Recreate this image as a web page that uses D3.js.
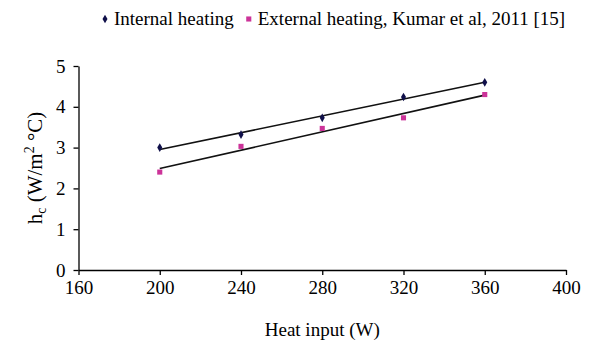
<!DOCTYPE html>
<html>
<head>
<meta charset="utf-8">
<script src="https://cdn.jsdelivr.net/npm/d3@7"></script>
<style>
  body { margin: 0; background: #fff; }
  svg text { font-family: "Liberation Serif", "Times New Roman", serif; fill: #000; }
</style>
</head>
<body>
<div id="chart"></div>
<script>
// data
const heatInput = [200, 240, 280, 320, 360];
const internalHeating = [3.0, 3.32, 3.73, 4.24, 4.6];
const externalHeating = [2.4, 3.03, 3.47, 3.73, 4.3];
const xTicks = [160, 200, 240, 280, 320, 360, 400];
const yTicks = [0, 1, 2, 3, 4, 5];

const W = 614, H = 354;
const margin = { top: 66, right: 48, bottom: 84, left: 78.5 };
const width = W - margin.left - margin.right;
const height = H - margin.top - margin.bottom;
const fontSize = "19px";

const svg = d3.select("#chart").append("svg")
    .attr("width", W)
    .attr("height", H);

const g = svg.append("g").attr("transform", `translate(${margin.left},${margin.top})`);

const x = d3.scaleLinear().domain([160, 400]).range([0, width]);
const y = d3.scaleLinear().domain([0, 5]).range([height, 0]);

// least-squares trend line, like the spreadsheet one
function trend(xs, ys) {
    const mx = d3.mean(xs), my = d3.mean(ys);
    const slope = d3.sum(xs, (v, i) => (v - mx) * (ys[i] - my)) / d3.sum(xs, (v) => (v - mx) ** 2);
    const x0 = d3.min(xs), x1 = d3.max(xs);
    return [[x0, my + slope * (x0 - mx)], [x1, my + slope * (x1 - mx)]];
}

// axes
const xAxis = g.append("g")
    .attr("transform", `translate(0,${height})`)
    .call(d3.axisBottom(x).tickValues(xTicks).tickFormat(d3.format("d"))
        .tickSize(5).tickPadding(6).tickSizeOuter(0));
const yAxis = g.append("g")
    .call(d3.axisLeft(y).tickValues(yTicks).tickFormat(d3.format("d"))
        .tickSize(5).tickPadding(8).tickSizeOuter(0));

[xAxis, yAxis].forEach((a) => {
    a.attr("font-family", '"Liberation Serif", serif').attr("font-size", 19);
    a.select(".domain").attr("stroke", "#000").attr("stroke-width", 1.3);
    a.selectAll(".tick line").attr("stroke", "#000").attr("stroke-width", 1.3);
    a.selectAll(".tick text").attr("fill", "#000");
});

const line = d3.line().x((d) => x(d[0])).y((d) => y(d[1]));

const series = [
    { name: "Internal heating", values: internalHeating, color: "#10104a", symbol: d3.symbolDiamond, size: 22 },
    { name: "External heating, Kumar et al, 2011 [15]", values: externalHeating, color: "#cc3399", symbol: d3.symbolSquare, size: 26 }
];

series.forEach((s) => {
    g.append("path")
        .datum(trend(heatInput, s.values))
        .attr("fill", "none")
        .attr("stroke", "#111")
        .attr("stroke-width", 1.6)
        .attr("d", line);

    g.selectAll(null)
        .data(heatInput)
        .enter()
        .append("path")
        .attr("transform", (d, i) => `translate(${x(d)},${y(s.values[i])})`)
        .attr("d", d3.symbol().type(s.symbol).size(s.size))
        .attr("fill", s.color);
});

// axis titles
svg.append("text")
    .attr("x", margin.left + width / 2)
    .attr("y", 336)
    .attr("text-anchor", "middle")
    .style("font-size", fontSize)
    .text("Heat input (W)");

const yTitle = svg.append("text")
    .attr("transform", `translate(42,${margin.top + height / 2}) rotate(-90)`)
    .attr("text-anchor", "middle")
    .style("font-size", "21px");
yTitle.append("tspan").text("h");
yTitle.append("tspan").attr("dy", 4).style("font-size", "14px").text("c");
yTitle.append("tspan").attr("dy", -4).text(" (W/m");
yTitle.append("tspan").attr("dy", -8).style("font-size", "14px").text("2");
yTitle.append("tspan").attr("dy", 8).text(" °C)");

// legend
const legend = svg.append("g").attr("transform", "translate(105,19)");
let lx = 0;
series.forEach((s) => {
    const item = legend.append("g").attr("transform", `translate(${lx},0)`);
    item.append("path")
        .attr("d", d3.symbol().type(s.symbol).size(s.size))
        .attr("fill", s.color);
    const t = item.append("text")
        .attr("x", 9)
        .attr("y", 6)
        .style("font-size", fontSize)
        .text(s.name);
    lx += 9 + t.node().getComputedTextLength() + 15;
});
</script>
</body>
</html>
